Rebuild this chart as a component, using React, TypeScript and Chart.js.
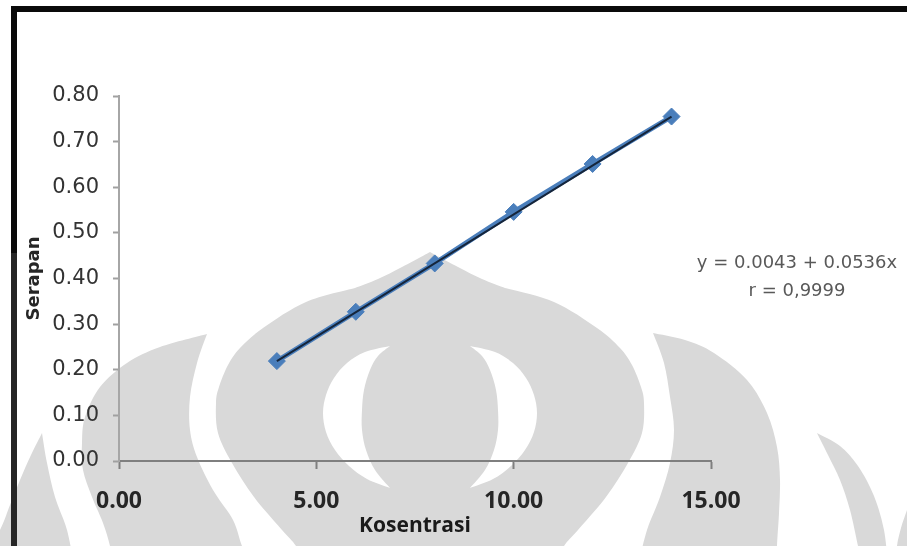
import React, { useEffect, useRef } from 'react';
import { Chart, registerables } from 'chart.js';

Chart.register(...registerables);

// Calibration data: concentration vs. absorbance
const concentrations = [4, 6, 8, 10, 12, 14];
const absorbances = [0.219, 0.327, 0.433, 0.546, 0.651, 0.755];

// Linear regression reported for the calibration
const intercept = 0.0043;
const slope = 0.0536;
const correlationText = '0,9999';

const xTickValues = [0, 5, 10, 15];
const yTickValues = [0, 0.1, 0.2, 0.3, 0.4, 0.5, 0.6, 0.7, 0.8];
const xTitle = 'Kosentrasi';
const yTitle = 'Serapan';

const W = 907;
const H = 546;

// ---- background emblem geometry -------------------------------------------
type Pt = [number, number];
const AXIS = 860; // mirror line (x * 2)

function curveThrough(pts: Pt[]): string {
  let d = '';
  for (let i = 0; i < pts.length - 1; i++) {
    const p0 = pts[i - 1] || pts[i];
    const p1 = pts[i];
    const p2 = pts[i + 1];
    const p3 = pts[i + 2] || p2;
    const c1x = p1[0] + (p2[0] - p0[0]) / 6;
    const c1y = p1[1] + (p2[1] - p0[1]) / 6;
    const c2x = p2[0] - (p3[0] - p1[0]) / 6;
    const c2y = p2[1] - (p3[1] - p1[1]) / 6;
    d += ` C ${c1x.toFixed(1)} ${c1y.toFixed(1)} ${c2x.toFixed(1)} ${c2y.toFixed(1)} ${p2[0]} ${p2[1]}`;
  }
  return d;
}

function shapePath(edges: Pt[][]): string {
  let d = `M ${edges[0][0][0]} ${edges[0][0][1]}`;
  for (const e of edges) {
    d += ` L ${e[0][0]} ${e[0][1]}` + curveThrough(e);
  }
  return d + ' Z';
}

const mirror = (pts: Pt[]): Pt[] => pts.map(([x, y]) => [AXIS - x, y] as Pt).reverse();

const bulbTop: Pt[] = [[430, 252], [402, 267], [378, 279], [355, 288]];
const bulbSide: Pt[] = [
  [355, 288], [306, 302], [263, 328], [240, 348], [228, 365], [219, 387], [216, 403],
  [218, 433], [232, 463], [254, 497], [282, 530], [296, 546], [306, 566],
];
const bulb = shapePath([bulbTop, bulbSide, [[306, 566], [554, 566]], mirror(bulbSide), mirror(bulbTop)]);

const crescentOuter: Pt[] = [
  [390, 346], [365, 352], [347, 363], [334, 378], [326, 395], [323, 413], [326, 432],
  [335, 450], [349, 466], [367, 479], [390, 488],
];
const crescentInner: Pt[] = [
  [390, 488], [375, 470], [366, 450], [362, 430], [362, 410], [364, 390], [370, 370], [378, 356], [390, 346],
];
const crescentLeft = shapePath([crescentOuter, crescentInner]);
const crescentRight = shapePath([mirror(crescentInner), mirror(crescentOuter)]);

const leafLeft = shapePath([
  [[207, 334], [160, 347], [127, 363], [100, 387], [85, 417], [82, 443], [83, 470], [92, 497], [103, 523], [110, 546], [113, 566]],
  [[113, 566], [252, 566]],
  [[252, 566], [242, 546], [233, 520], [213, 490], [197, 457], [190, 430], [190, 397], [197, 363], [207, 334]],
]);
const leafRight = shapePath([
  [[653, 333], [664, 363], [670, 397], [674, 430], [670, 463], [660, 497], [647, 530], [638, 566]],
  [[638, 566], [777, 566]],
  [[777, 566], [777, 546], [779, 513], [780, 480], [777, 447], [767, 413], [747, 380], [714, 353], [685, 340], [653, 333]],
]);
const outerLeft = shapePath([
  [[42, 433], [47, 463], [55, 497], [67, 530], [74, 566]],
  [[74, 566], [-20, 566]],
  [[-20, 566], [0, 530], [10, 505], [20, 480], [31, 455], [42, 433]],
]);
const outerRight = shapePath([
  [[817, 433], [828, 455], [840, 480], [850, 510], [858, 546], [862, 566]],
  [[862, 566], [888, 566]],
  [[888, 566], [884, 530], [874, 496], [858, 466], [840, 446], [817, 433]],
]);
const outerTip = shapePath([
  [[907, 510], [901, 528], [897, 546], [896, 566]],
  [[896, 566], [920, 566], [920, 510]],
]);

// ---- chart ------------------------------------------------------------------
const equationPlugin = {
  id: 'equationText',
  afterDraw(chart: any) {
    const { ctx, chartArea } = chart;
    ctx.save();
    ctx.font = '18px "DejaVu Sans"';
    ctx.fillStyle = '#595959';
    ctx.textAlign = 'center';
    ctx.textBaseline = 'middle';
    const cx = chartArea.right + 86;
    ctx.fillText(`y = ${intercept.toFixed(4)} + ${slope.toFixed(4)}x`, cx, chartArea.top + 167);
    ctx.fillText(`r = ${correlationText}`, cx, chartArea.top + 195);
    ctx.restore();
  },
};

export default function App() {
  const canvasRef = useRef<HTMLCanvasElement>(null);

  useEffect(() => {
    const points = concentrations.map((x, i) => ({ x, y: absorbances[i] }));
    const xFirst = concentrations[0];
    const xLast = concentrations[concentrations.length - 1];
    const trend = [
      { x: xFirst, y: intercept + slope * xFirst },
      { x: xLast, y: intercept + slope * xLast },
    ];

    const chart = new Chart(canvasRef.current as HTMLCanvasElement, {
      type: 'scatter',
      data: {
        datasets: [
          {
            label: 'Linear (Serapan)',
            data: trend,
            showLine: true,
            borderColor: '#15253b',
            borderWidth: 2,
            pointRadius: 0,
          },
          {
            label: 'Serapan',
            data: points,
            showLine: true,
            borderColor: '#4a7ebb',
            borderWidth: 5,
            pointStyle: 'rectRot',
            pointRadius: 8.5,
            pointBackgroundColor: '#4a7ebb',
            pointBorderColor: '#4a7ebb',
            pointBorderWidth: 1,
          },
        ],
      },
      options: {
        responsive: false,
        animation: false,
        events: [],
        layout: { padding: { left: 0, top: 96, right: 196, bottom: 0 } },
        plugins: { legend: { display: false }, tooltip: { enabled: false } },
        scales: {
          x: {
            type: 'linear',
            position: 'bottom',
            min: 0,
            max: 15,
            afterBuildTicks: (s: any) => {
              s.ticks = xTickValues.map((value) => ({ value }));
            },
            afterFit: (s: any) => {
              s.height = 85;
            },
            ticks: {
              callback: (v: any) => Number(v).toFixed(2),
              font: { family: '"Open Sans"', size: 23, weight: 'bold' },
              color: '#262626',
              padding: 19,
              maxRotation: 0,
              autoSkip: false,
            },
            grid: {
              drawOnChartArea: false,
              drawTicks: true,
              tickLength: 8,
              tickWidth: 2,
              tickColor: '#7f7f7f',
            },
            border: { display: true, color: '#7f7f7f', width: 2 },
            title: {
              display: true,
              text: xTitle,
              font: { family: '"Open Sans"', size: 21, weight: 'bold' },
              color: '#1a1a1a',
              padding: { top: 0, bottom: 7 },
            },
          },
          y: {
            type: 'linear',
            position: 'left',
            min: 0,
            max: 0.8,
            afterBuildTicks: (s: any) => {
              s.ticks = yTickValues.map((value) => ({ value }));
            },
            afterFit: (s: any) => {
              s.width = 119;
            },
            ticks: {
              callback: (v: any) => Number(v).toFixed(2),
              font: { family: '"DejaVu Sans"', size: 21 },
              color: '#333333',
              padding: 14,
              autoSkip: false,
            },
            grid: {
              drawOnChartArea: false,
              drawTicks: true,
              tickLength: 6,
              tickWidth: 2,
              tickColor: '#a0a0a0',
            },
            border: { display: true, color: '#a6a6a6', width: 2 },
            title: {
              display: true,
              text: yTitle,
              font: { family: '"DejaVu Sans"', size: 18, weight: 'bold' },
              color: '#262626',
              padding: { top: 24, bottom: 0 },
            },
          },
        },
      },
      plugins: [equationPlugin],
    } as any);

    return () => chart.destroy();
  }, []);

  return (
    <div
      style={{
        position: 'fixed',
        left: 0,
        top: 0,
        width: W,
        height: H,
        background: '#ffffff',
        overflow: 'hidden',
      }}
    >
      <svg
        width={W}
        height={H}
        viewBox={`0 0 ${W} ${H}`}
        style={{ position: 'absolute', left: 0, top: 0 }}
      >
        <g fill="#d9d9d9">
          <path d={bulb} />
          <path d={leafLeft} />
          <path d={leafRight} />
          <path d={outerLeft} />
          <path d={outerRight} />
          <path d={outerTip} />
        </g>
        <g fill="#ffffff">
          <path d={crescentLeft} />
          <path d={crescentRight} />
        </g>
        <rect x={11} y={6} width={W - 11} height={6} fill="#0a0a0a" />
        <rect x={11} y={6} width={6} height={250} fill="#0a0a0a" />
        <rect x={11} y={253} width={6} height={H - 253} fill="#262626" />
      </svg>
      <canvas
        ref={canvasRef}
        width={W}
        height={H}
        style={{ position: 'absolute', left: 0, top: 0 }}
      />
    </div>
  );
}
